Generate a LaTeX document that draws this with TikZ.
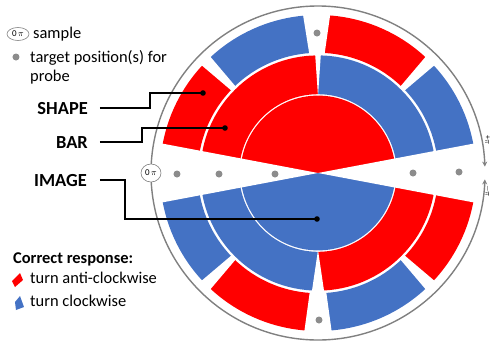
\documentclass[tikz,border=0pt]{standalone}
\usepackage{fontspec}
\setmainfont{Carlito}
\usetikzlibrary{arrows.meta,calc,shapes.geometric}
\definecolor{myblue}{HTML}{4472C4}
\definecolor{myred}{HTML}{FF0000}
\definecolor{dotgray}{HTML}{8C8C8C}
\definecolor{ringgray}{HTML}{808080}
\newcommand{\mysector}[5]{\fill[#1] (#2:#4) arc[start angle=#2, end angle=#3, radius=#4] -- (#3:#5) arc[start angle=#3, end angle=#2, radius=#5] -- cycle;}
\newcommand{\shapegap}[3]{\fill[white] ($(#1:118)+(#1+90:#2)$) -- ($(#1:163)+(#1+90:#3)$) -- ($(#1:163)+(#1-90:#3)$) -- ($(#1:118)+(#1-90:#2)$) -- cycle;}
\begin{document}
\begin{tikzpicture}[x=1bp,y=1bp,
  lbl/.style={font=\fontsize{18.5}{20}\selectfont\bfseries, inner sep=0},
  txt/.style={font=\fontsize{16.5}{19}\selectfont, inner sep=0, anchor=base west},
  leader/.style={draw=black, line width=1.5bp},
  tdot/.style={fill=dotgray},
  samp/.style={ellipse, draw=ringgray, fill=white, line width=0.6bp, inner sep=0, font=\fontsize{9}{10}\selectfont},
  ring/.style={draw=ringgray, line width=1.4bp, -{Stealth[length=5bp,width=5bp]}},
  pilbl/.style={rotate=-90, inner sep=0, font=\fontsize{8}{9}\selectfont}
]
\useasboundingbox (-318,-168) rectangle (175,173);
% inner disk (IMAGE)
\fill[myred] (0,0) -- (0:77.4) arc[start angle=0, end angle=180, radius=77.4] -- cycle;
\fill[myblue] (0,0) -- (180:77.4) arc[start angle=180, end angle=360, radius=77.4] -- cycle;
% BAR ring
\mysector{myred}{90}{180}{78.8}{117.6}
\mysector{myblue}{0}{90}{78.8}{117.6}
\mysector{myblue}{180}{270}{78.8}{117.6}
\mysector{myred}{270}{360}{78.8}{117.6}
% SHAPE ring
\mysector{myred}{135}{180}{120.2}{158}
\mysector{myblue}{90}{135}{120.2}{158}
\mysector{myred}{45}{90}{120.2}{158}
\mysector{myblue}{0}{45}{120.2}{158}
\mysector{myblue}{180}{225}{120.2}{158}
\mysector{myred}{225}{270}{120.2}{158}
\mysector{myblue}{270}{315}{120.2}{158}
\mysector{myred}{315}{360}{120.2}{158}
% white gaps
\fill[white] (0,0) -- (169.3:180) -- (190.7:180) -- cycle;
\fill[white] (0,0) -- (10.7:180) -- (-10.7:180) -- cycle;
\fill[white] (0,77) -- (-3,121) -- (3,121) -- cycle;
\fill[white] (0,-77) -- (-6.5,-121) -- (6.5,-121) -- cycle;
\shapegap{90.5}{7.5}{14.3}
\shapegap{270}{8.1}{14.3}
\shapegap{45}{2.8}{6.5}
\shapegap{135}{2.8}{6.5}
\shapegap{225}{2.8}{6.5}
\shapegap{315}{2.8}{6.5}
% probe target dots
\fill[tdot] (-141,-1) circle[radius=3.5];
\fill[tdot] (-99,-1) circle[radius=3.5];
\fill[tdot] (-43,-1) circle[radius=3.5];
\fill[tdot] (95,0) circle[radius=3.5];
\fill[tdot] (141,1) circle[radius=3.5];
\fill[tdot] (-1,140) circle[radius=3.5];
\fill[tdot] (1,-147) circle[radius=3.5];
% outer ring with arrows
\draw[ring] (180:167) arc[start angle=180, end angle=2.2, radius=167];
\draw[ring] (-180:167) arc[start angle=-180, end angle=-2.2, radius=167];
\node[pilbl] (plus) at (169.5,33) {+$\pi$};
\node[pilbl] (minus) at (169.5,-18) {$-\pi$};
\node[samp, minimum width=20bp, minimum height=18bp] (zeropi) at (-167,0) {0\,$\pi$};
% labels and leaders
\node[lbl, anchor=base east] (shape) at (-230,59) {SHAPE};
\node[lbl, anchor=base east] (bar) at (-230,25) {BAR};
\node[lbl, anchor=base east] (image) at (-231,-13) {IMAGE};
\coordinate (shapept) at (-115,80);
\coordinate (barpt) at (-93,45);
\coordinate (imgpt) at (-1,-46);
\draw[leader] ([xshift=12bp]shape.east) -- ([xshift=62bp]shape.east) |- (shapept);
\draw[leader] ([xshift=12bp]bar.east) -- ([xshift=54bp]bar.east) |- (barpt);
\draw[leader] ([xshift=13bp]image.east) -- ([xshift=38bp]image.east) |- (imgpt);
\fill (shapept) circle[radius=2.8];
\fill (barpt) circle[radius=2.8];
\fill (imgpt) circle[radius=2.8];
% legend
\node[samp, minimum width=22bp, minimum height=13bp] (legsample) at (-300,139) {0\,$\pi$};
\node[txt] (sampletxt) at (-285,135) {sample};
\fill[tdot] (-302,116) circle[radius=3.5];
\node[txt] (targettxt) at (-288,111) {target position(s) for};
\node[txt] (probetxt) at (-288,92) {probe};
\node[txt, font=\fontsize{16.5}{19}\selectfont\bfseries] (correct) at (-305,-90) {Correct response:};
\fill[myred] (-298,-100) -- (-295,-107) -- (-303,-114) -- (-306,-108) -- cycle;
\node[txt] (anti) at (-288,-110) {turn anti-clockwise};
\fill[myblue] (-298,-123) -- (-294,-134) -- (-302,-137) -- (-303,-129) -- cycle;
\node[txt] (clock) at (-288,-133) {turn clockwise};
\end{tikzpicture}
\end{document}
